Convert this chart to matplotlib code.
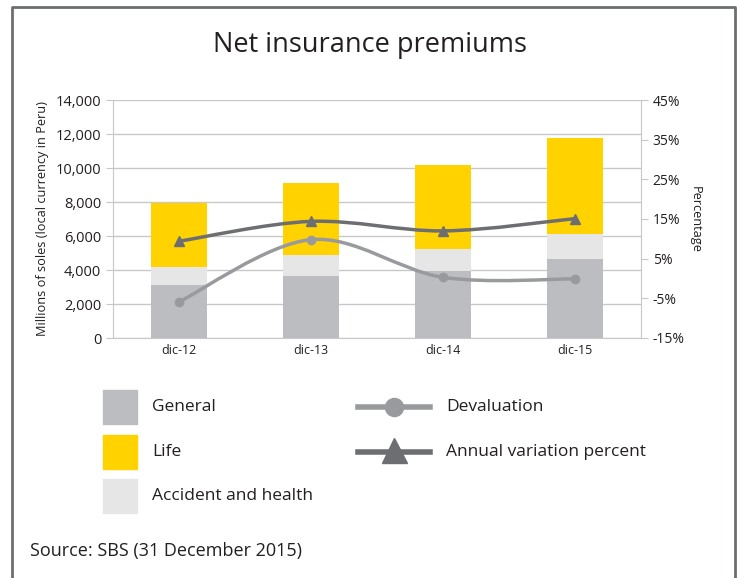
import numpy as np
import matplotlib.pyplot as plt
from matplotlib.path import Path
from matplotlib.patches import PathPatch, Rectangle
from matplotlib.lines import Line2D

plt.rcParams['font.family'] = ['Open Sans', 'DejaVu Sans']

categories = ["dic-12", "dic-13", "dic-14", "dic-15"]
general = [3120, 3650, 3950, 4650]
accident = [1060, 1230, 1290, 1470]
life = [3760, 4240, 4940, 5650]
devaluation = [-5.9, 9.8, 0.3, -0.1]
annual_var = [9.4, 14.4, 12.0, 15.1]

c_general = "#bcbdc0"
c_life = "#ffd200"
c_acc = "#e6e6e7"
c_dev = "#999a9d"
c_ann = "#6d6e71"
grid_c = "#c8c8c8"


def smooth_path(xs, ys):
    # Catmull-Rom style smoothing as cubic bezier segments (like Excel smoothed lines)
    pts = np.column_stack([xs, ys]).astype(float)
    verts = [pts[0]]
    codes = [Path.MOVETO]
    n = len(pts)
    for i in range(n - 1):
        p0 = pts[max(i - 1, 0)]
        p1 = pts[i]
        p2 = pts[i + 1]
        p3 = pts[min(i + 2, n - 1)]
        verts += [p1 + (p2 - p0) / 6, p2 - (p3 - p1) / 6, p2]
        codes += [Path.CURVE4] * 3
    return Path(verts, codes)


fig = plt.figure(figsize=(7.4, 5.78), dpi=100)

# outer frame (left, top, right)
fig.add_artist(Line2D([12 / 740, 12 / 740, 735 / 740, 735 / 740],
                      [0, 1 - 7 / 578, 1 - 7 / 578, 0],
                      transform=fig.transFigure, color="#6d6e71", lw=2))

fig.text(0.5, 1 - 45 / 578, "Net insurance premiums", ha="center", va="center",
         fontsize=19.5, color="#231f20")

ax = fig.add_axes([113 / 740, 1 - 338 / 578, 528 / 740, 238 / 578])
x = np.arange(len(categories))
w = 0.42
ax.bar(x, general, w, color=c_general, zorder=2)
ax.bar(x, accident, w, bottom=general, color=c_acc, zorder=2)
ax.bar(x, life, w, bottom=np.array(general) + np.array(accident), color=c_life, zorder=2)
ax.set_xlim(-0.5, len(categories) - 0.5)
ax.set_ylim(0, 14000)
ax.set_yticks(np.arange(0, 14001, 2000))
ax.set_yticklabels([f"{v:,}" for v in range(0, 14001, 2000)])
ax.set_xticks(x)
ax.set_xticklabels(categories)
ax.yaxis.grid(True, color=grid_c, lw=1, zorder=0)
ax.set_axisbelow(True)
for s in ["left", "bottom", "right"]:
    ax.spines[s].set_color(grid_c)
ax.spines["top"].set_visible(False)
ax.tick_params(axis="y", colors=grid_c, labelcolor="#231f20", labelsize=10.5, length=5)
ax.tick_params(axis="x", length=0, labelsize=9, labelcolor="#231f20", pad=4)
ax.set_ylabel("Millions of soles (local currency in Peru)", fontsize=9.2, color="#231f20", labelpad=5)

ax2 = ax.twinx()
ax2.set_ylim(-15, 45)
ax2.set_yticks(np.arange(-15, 46, 10))
ax2.set_yticklabels([f"{v}%" for v in range(-15, 46, 10)])
ax2.tick_params(axis="y", colors=grid_c, labelcolor="#231f20", labelsize=10, length=5)
for s in ax2.spines.values():
    s.set_visible(False)
ax2.set_ylabel("Percentage", rotation=270, fontsize=9.2, color="#231f20", labelpad=12)

for vals, col, mk, ms in [(devaluation, c_dev, "o", 6), (annual_var, c_ann, "^", 7)]:
    ax2.add_patch(PathPatch(smooth_path(x, vals), fill=False, edgecolor=col, lw=2.5, zorder=3))
    ax2.plot(x, vals, ls="none", marker=mk, ms=ms, color=col, zorder=4)

# legend drawn in figure pixel space
leg = fig.add_axes([0, 0, 1, 1], zorder=-1)
leg.set_xlim(0, 740)
leg.set_ylim(578, 0)
leg.axis("off")
for i, (lab, col) in enumerate([("General", c_general), ("Life", c_life),
                                ("Accident and health", c_acc)]):
    y0 = 390 + i * 44.5
    leg.add_patch(Rectangle((103, y0), 34, 34, color=col))
    leg.text(152, y0 + 17, lab, va="center", fontsize=12.5, color="#231f20")
for i, (lab, col, mk, ms) in enumerate([("Devaluation", c_dev, "o", 13),
                                        ("Annual variation percent", c_ann, "^", 18)]):
    yc = 407 + i * 44.5
    leg.plot([358, 430], [yc, yc], color=col, lw=4)
    leg.plot([394], [yc + (0 if mk == "o" else -2)], marker=mk, ms=ms, color=col, ls="none")
    leg.text(446, yc, lab, va="center", fontsize=12.5, color="#231f20")

fig.text(30 / 740, 1 - 551 / 578, "Source: SBS (31 December 2015)", va="center",
         fontsize=13, color="#231f20")

fig.savefig("out.png", dpi=100)
